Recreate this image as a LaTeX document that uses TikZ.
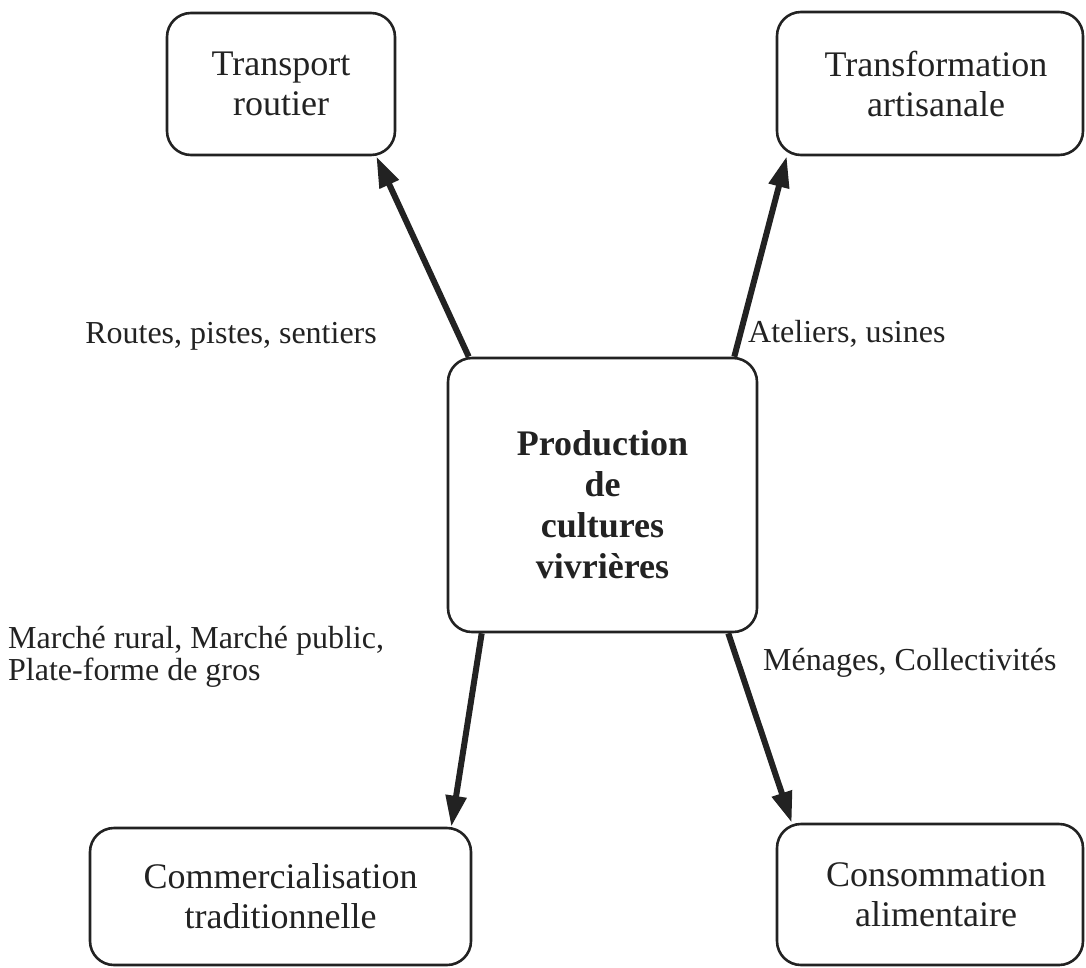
\documentclass[tikz,border=0pt]{standalone}
\usepackage{fontspec}
\setmainfont{Liberation Serif}
\usetikzlibrary{arrows.meta}
\definecolor{ink}{HTML}{222222}
\begin{document}
\begin{tikzpicture}[x=1pt,y=-1pt,
  box/.style={draw=ink, line width=2.6pt, rounded corners=24pt, rectangle, inner sep=0pt,
    align=center, text=ink, font=\fontsize{36}{40}\selectfont},
  flow/.style={draw=ink, line width=6pt, -{Triangle[length=31pt,width=20pt]}},
  lab/.style={text=ink, inner sep=0pt, font=\fontsize{32}{34}\selectfont}]
\useasboundingbox (0,0) rectangle (1086,967);
\node[box, minimum width=228pt, minimum height=142pt] (T) at (281,84) {Transport\\routier};
\node[box, minimum width=306pt, minimum height=143pt] (F) at (930,83.5) {\hspace*{12pt}Transformation\\\hspace*{12pt}artisanale};
\node[box, minimum width=309pt, minimum height=274pt] (C) at (602.5,495) {};
\node[text=ink, align=center, inner sep=0pt, font=\bfseries\fontsize{36}{41}\selectfont] (Ct) at (602.5,505) {Production\\de\\cultures\\vivrières};
\node[box, minimum width=381pt, minimum height=137pt] (M) at (280.5,896.5) {Commercialisation\\traditionnelle};
\node[box, minimum width=306pt, minimum height=141pt] (K) at (930,894.5) {\hspace*{12pt}Consommation\\\hspace*{12pt}alimentaire};

\coordinate (a1) at ([xshift=22pt]C.north west);
\coordinate (t1) at ([xshift=-20pt]T.south east);
\coordinate (a2) at ([xshift=-24pt]C.north east);
\coordinate (t2) at ([xshift=11pt]F.south west);
\coordinate (a3) at ([xshift=35pt]C.south west);
\coordinate (t3) at ([xshift=-21pt]M.north east);
\coordinate (a4) at ([xshift=-30pt]C.south east);
\coordinate (t4) at ([xshift=16pt]K.north west);
\draw[flow] (a1) -- (t1);
\draw[flow] (a2) -- (t2);
\draw[flow] (a3) -- (t3);
\draw[flow] (a4) -- (t4);

\node[lab, anchor=base east] (l1) at (377,343) {Routes, pistes, sentiers};
\node[lab, anchor=base west] (l2) at (748,342) {Ateliers, usines};
\node[lab, anchor=base west] (l3a) at (8,648) {Marché rural, Marché public,};
\node[lab, anchor=base west] (l3b) at (8,680) {Plate-forme de gros};
\node[lab, anchor=base west] (l4) at (763,670) {Ménages, Collectivités};
\end{tikzpicture}
\end{document}
